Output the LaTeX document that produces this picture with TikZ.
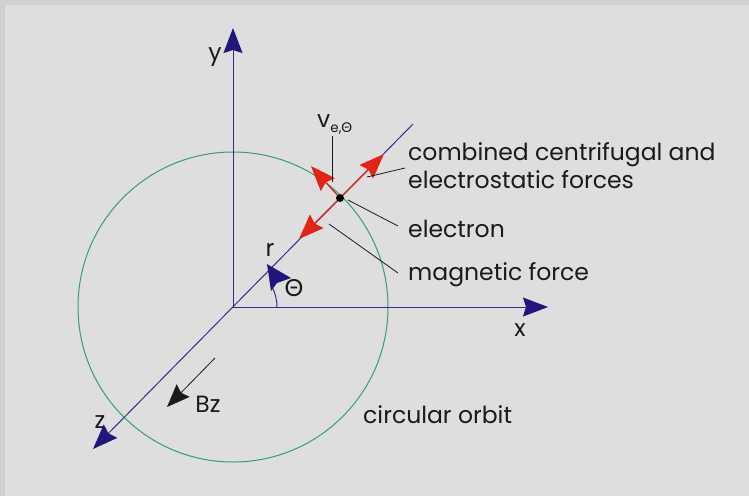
\documentclass[tikz,border=0pt]{standalone}
\usepackage{fontspec}
\setmainfont{Poppins}
\newfontfamily\gk{Lato}
\usetikzlibrary{arrows.meta}
\definecolor{bgc}{HTML}{DEDEDE}
\definecolor{bandc}{HTML}{D0D0D0}
\definecolor{axisc}{HTML}{3B2A8C}
\definecolor{headc}{HTML}{22167A}
\definecolor{orbitc}{HTML}{3A9A7A}
\definecolor{forcec}{HTML}{E22418}
\definecolor{txtc}{HTML}{1A1A1A}
\begin{document}
\begin{tikzpicture}[x=1pt,y=-1pt,
  font=\fontsize{23.5}{28}\selectfont,
  axis/.style={draw=axisc, line width=1pt},
  axhead/.style={-{Stealth[length=25pt,width=19pt,inset=3pt,color=headc]}},
  force/.style={draw=forcec, line width=1.3pt, -{Stealth[length=25pt,width=19pt,inset=3pt,color=forcec]}},
  leader/.style={draw=txtc, line width=0.8pt},
  lbl/.style={inner sep=0pt, text=txtc}]
\fill[bandc] (0,0) rectangle (749,496);
\fill[bgc] (5,5) rectangle (749,496);
\useasboundingbox (0,0) rectangle (749,496);
% coordinates
\coordinate (O) at (233,307);
\coordinate (ytip) at (233,28);
\coordinate (xtip) at (548,307);
\coordinate (ztip) at (93,449);
\coordinate (dtop) at (413,124);
% orbit
\draw[orbitc, line width=1pt] (O) circle[radius=155pt];
% axes
\draw[axis, axhead] (O) -- (ytip);
\draw[axis, axhead] (O) -- (xtip);
\draw[axis, axhead] (dtop) -- (ztip);
% angle arc
\coordinate (arcs) at (277,307);
\draw[axis] (arcs) arc[start angle=0, end angle=27, radius=44pt] coordinate (arce);
\fill[headc] (267,264) -- (271,291) -- (277,283) -- (291,278) -- cycle;
% electron and forces
\node[circle, fill=black, inner sep=0pt, minimum size=8pt] (E) at (340,198) {};
\coordinate (ftan) at (311,166);
\coordinate (fout) at (384,154);
\coordinate (fin) at (299,239);
\draw[force] (E) -- (ftan);
\draw[force] (E) -- (fout);
\draw[force] (E) -- (fin);
% Bz
\coordinate (bzs) at (215,358);
\coordinate (bzt) at (167,407);
\draw[draw=txtc, line width=0.8pt, -{Stealth[length=23pt,width=18pt,inset=3pt,color=txtc]}] (bzs) -- (bzt);
% labels
\node[lbl] (ylab) at (215,57) {y};
\node[lbl] (xlab) at (520,330) {x};
\node[lbl] (zlab) at (100,422) {z};
\node[lbl] (rlab) at (270,250) {r};
\node[lbl] (thlab) at (294,288) {\gk Θ};
\node[lbl] (bzlab) at (208,404) {Bz};
\node[lbl, anchor=base west] (vlab) at (317,127) {v\raisebox{-5pt}{\fontsize{13.5}{14}\selectfont e,{\gk Θ}}};
\node[lbl, anchor=base west] (comb1) at (408,160) {combined centrifugal and};
\node[lbl, anchor=base west] (comb2) at (408,188) {electrostatic forces};
\node[lbl, anchor=base west] (elab) at (408,237) {electron};
\node[lbl, anchor=base west] (mlab) at (408,280) {magnetic force};
\node[lbl, anchor=base west] (olab) at (363,423) {circular orbit};
% leaders
\coordinate (vl1) at (332,136);
\coordinate (vl2) at (332,182);
\draw[leader] (vl1) -- (vl2);
\coordinate (cl1) at (367,177);
\coordinate (cl2) at (405,168);
\draw[leader] (cl1) -- (cl2);
\coordinate (el1) at (348,200);
\coordinate (el2) at (398,226);
\draw[leader] (el1) -- (el2);
\coordinate (ml1) at (329,224);
\coordinate (ml2) at (398,273);
\draw[leader] (ml1) -- (ml2);
\end{tikzpicture}
\end{document}
